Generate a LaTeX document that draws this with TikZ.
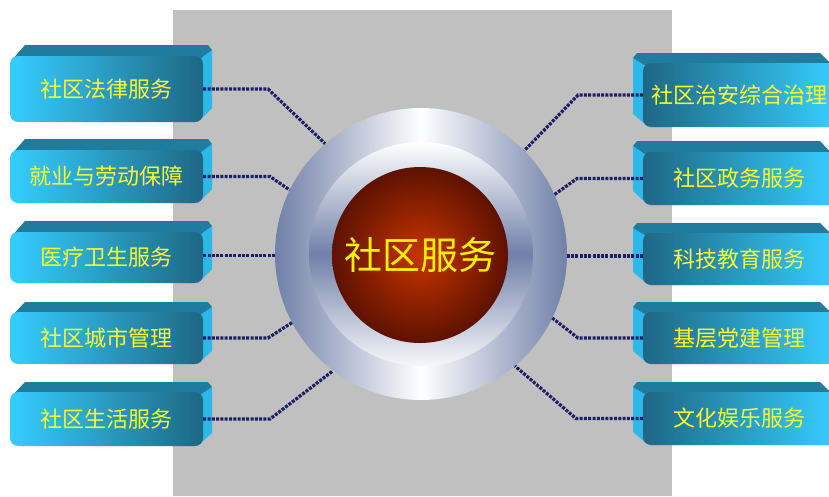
\documentclass[tikz,border=0pt]{standalone}
\usepackage{fontspec}
\newfontfamily\cjk{Noto Sans CJK SC}
\usetikzlibrary{calc}
\definecolor{bgray}{HTML}{C0C0C0}
\definecolor{cyanL}{HTML}{35CEFF}
\definecolor{tealD}{HTML}{1E6784}
\definecolor{topC}{HTML}{1F7C9C}
\definecolor{sideC}{HTML}{2CB8E8}
\definecolor{lineC}{HTML}{1E1E66}
\definecolor{ringD}{HTML}{7080A8}
\definecolor{redIn}{HTML}{C83400}
\definecolor{redOut}{HTML}{5E1200}
\definecolor{txtY}{HTML}{FAFA2A}
\tikzset{
  boxbase/.style={rounded corners=8pt, minimum width=193pt, inner sep=0pt, text=txtY,
    font=\cjk\fontsize{22pt}{22pt}\selectfont},
  frontL/.style={boxbase, left color=cyanL, right color=tealD},
  frontR/.style={boxbase, left color=tealD, right color=cyanL},
  conn/.style={lineC, line width=3.2pt, dash pattern=on 3pt off 1.3pt},
}
% left box 3D faces: x1 x2 ytop yfront ybottom
\newcommand\leftdeco[5]{%
  \fill[topC] (#1+1,#4+5) -- (#1+15,#3) -- (#2+5,#3) -- (#2+9,#3+5) -- (#2,#4+6) -- cycle;
  \fill[sideC] (#2-3,#4+3) -- (#2+9,#3+5) -- (#2+9,#5-#4+#3-3) -- (#2-3,#5-2) -- cycle;
}
\newcommand\rightdeco[5]{%
  \fill[topC] (#2-1,#4+5) -- (#2-16,#3) -- (#1-6,#3) -- (#1-10,#3+5) -- (#1,#4+6) -- cycle;
  \fill[sideC] (#1+3,#4+3) -- (#1-10,#3+5) -- (#1-10,#5-#4+#3-3) -- (#1+3,#5-2) -- cycle;
}
\begin{document}
\begin{tikzpicture}[x=1pt,y=-1pt]
\useasboundingbox (0,0) rectangle (829,496);
\clip (0,0) rectangle (829,496);
\fill[white] (0,0) rectangle (829,496);
\fill[bgray] (173,10) rectangle (672,496);

% hub
\node[circle, minimum size=292pt, inner sep=0pt, left color=ringD, right color=ringD, middle color=white] (hub) at (421,254) {};
\node[circle, minimum size=224pt, inner sep=0pt, top color=white, bottom color=white!94!ringD, middle color=ringD] (ring) at (421,254) {};
\node[circle, minimum size=176pt, inner sep=0pt, inner color=redIn, outer color=redOut,
  text=yellow, font=\cjk\fontsize{38pt}{38pt}\selectfont] (core) at (420,255) {社区服务};

% left boxes
\leftdeco{10}{203}{45}{56}{122}
\leftdeco{10}{203}{139}{150}{203}
\leftdeco{10}{203}{221}{232}{283}
\leftdeco{10}{203}{302}{312}{364}
\leftdeco{10}{203}{382}{392}{446}
\node[frontL, minimum height=66pt] (L1) at (106.5,89) {社区法律服务};
\node[frontL, minimum height=53pt] (L2) at (106.5,176.5) {就业与劳动保障};
\node[frontL, minimum height=51pt] (L3) at (106.5,257.5) {医疗卫生服务};
\node[frontL, minimum height=52pt] (L4) at (106.5,338) {社区城市管理};
\node[frontL, minimum height=54pt] (L5) at (106.5,419) {社区生活服务};

% right boxes
\rightdeco{643}{836}{53}{63}{127}
\rightdeco{643}{836}{141}{152}{205}
\rightdeco{643}{836}{223}{233}{285}
\rightdeco{643}{836}{302}{312}{364}
\rightdeco{643}{836}{382}{392}{445}
\node[frontR, minimum height=64pt] (R1) at (739.5,95) {社区治安综合治理};
\node[frontR, minimum height=53pt] (R2) at (739.5,178.5) {社区政务服务};
\node[frontR, minimum height=52pt] (R3) at (739.5,259) {科技教育服务};
\node[frontR, minimum height=52pt] (R4) at (739.5,338) {基层党建管理};
\node[frontR, minimum height=53pt] (R5) at (739.5,418.5) {文化娱乐服务};

% elbows
\coordinate (eL1) at (268,89);
\coordinate (eL2) at (270,176);
\coordinate (eL4) at (268,336);
\coordinate (eL5) at (270,418);
\coordinate (eR1) at (578,94);
\coordinate (eR2) at (577,176);
\coordinate (eR4) at (578,336);
\coordinate (eR5) at (576,419);

% connectors
\draw[conn] (L1.east) -- (L1.east -| eL1) -- (hub.131);
\draw[conn] (L2.east) -- (L2.east -| eL2) -- (hub.154);
\draw[conn] ([yshift=2pt]L3.east) -- ([yshift=2pt]L3.east -| hub.west);
\draw[conn] (L4.east) -- (L4.east -| eL4) -- (hub.208);
\draw[conn] (L5.east) -- (L5.east -| eL5) -- (hub.233);
\draw[conn] (R1.west) -- (R1.west -| eR1) -- (hub.45);
\draw[conn] (R2.west) -- (R2.west -| eR2) -- (hub.24);
\draw[conn] ([yshift=3pt]R3.west) -- ([yshift=3pt]R3.west -| hub.east);
\draw[conn] (R4.west) -- (R4.west -| eR4) -- (hub.334);
\draw[conn] (R5.west) -- (R5.west -| eR5) -- (hub.310);
\end{tikzpicture}
\end{document}
